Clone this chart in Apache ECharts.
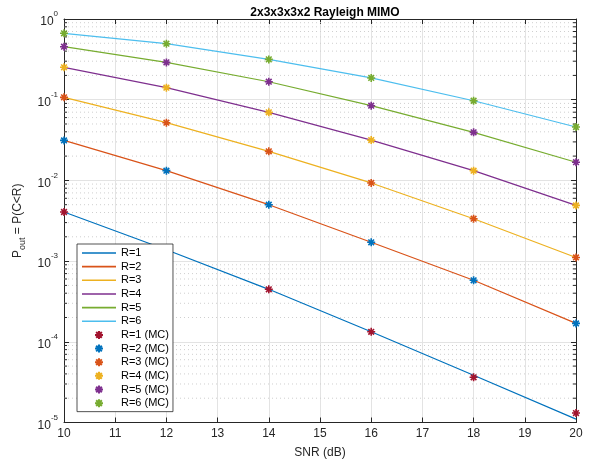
<!DOCTYPE html>
<html>
<head>
<meta charset="utf-8">
<script src="https://cdn.jsdelivr.net/npm/echarts@6/dist/echarts.min.js"></script>
<style>html,body{margin:0;padding:0;background:#fff}#c{width:594px;height:465px}</style>
</head>
<body>
<div id="c"></div>
<script>
var snr = [10, 12, 14, 16, 18, 20];
var xTicks = [10, 11, 12, 13, 14, 15, 16, 17, 18, 19, 20];
var yMinorTicks = [];
[1e-5, 1e-4, 1e-3, 1e-2, 1e-1].forEach(function (d) { for (var k = 2; k <= 9; k++) yMinorTicks.push(k * d); });

var lineNames = ['R=1', 'R=2', 'R=3', 'R=4', 'R=5', 'R=6'];
var mcNames = ['R=1 (MC)', 'R=2 (MC)', 'R=3 (MC)', 'R=4 (MC)', 'R=5 (MC)', 'R=6 (MC)'];

var R1 = [4.06e-3, 1.38e-3, 4.47e-4, 1.33e-4, 3.85e-5, 1.10e-5];
var R2 = [0.0313, 0.0132, 0.0050, 0.00171, 0.000578, 0.000169];
var R3 = [0.107, 0.0519, 0.0229, 0.0093, 0.00335, 0.00111];
var R4 = [0.252, 0.141, 0.0697, 0.0316, 0.0132, 0.0049];
var R5 = [0.454, 0.290, 0.167, 0.0843, 0.0394, 0.0168];
var R6 = [0.665, 0.494, 0.316, 0.186, 0.097, 0.0459];

var MC1 = [4.06e-3, 1.38e-3, 4.47e-4, 1.33e-4, 3.63e-5, 1.31e-5];
var MC2 = [0.0313, 0.0132, 0.0050, 0.00171, 0.000578, 0.000169];
var MC3 = [0.107, 0.0519, 0.0229, 0.0093, 0.00335, 0.00111];
var MC4 = [0.252, 0.141, 0.0697, 0.0316, 0.0132, 0.0049];
var MC5 = [0.454, 0.290, 0.167, 0.0843, 0.0394, 0.0168];
var MC6 = [0.665, 0.494, 0.316, 0.186, 0.097, 0.0459];

var lineColors = ['#0072BD', '#D95319', '#EDB120', '#7E2F8E', '#77AC30', '#4DBEEE'];
var mcColors = ['#A2142F', '#0072BD', '#D95319', '#EDB120', '#7E2F8E', '#77AC30'];

var lineData = [R1, R2, R3, R4, R5, R6];
var mcData = [MC1, MC2, MC3, MC4, MC5, MC6];

function pairs(arr) { return snr.map(function (x, i) { return [x, arr[i]]; }); }

var FONT = '"Liberation Sans", Arial, Helvetica, sans-serif';
var AX = '#262626';
var star = 'path://M10,0L10,20M0,10L20,10M2.93,2.93L17.07,17.07M2.93,17.07L17.07,2.93';
var lineIcon = 'path://M0,0L0,0M0,3.2L34,3.2L34,4.8L0,4.8ZM34,8L34,8';

var series = [];
series.push({
  type: 'custom', silent: true, z: 1,
  data: yMinorTicks.map(function (v) { return [10, v]; }),
  encode: { x: 0, y: 1 },
  renderItem: function (params, api) {
    var v = api.value(1);
    var p1 = api.coord([10, v]);
    var p2 = api.coord([20, v]);
    return {
      type: 'group',
      children: [
        { type: 'line', shape: { x1: p1[0], y1: p1[1], x2: p2[0], y2: p2[1] },
          style: { stroke: '#cfcfcf', lineWidth: 1, lineDash: [1, 3] } },
        { type: 'line', shape: { x1: p1[0], y1: p1[1], x2: p1[0] + 3, y2: p1[1] },
          style: { stroke: AX, lineWidth: 1 } },
        { type: 'line', shape: { x1: p2[0] - 3, y1: p2[1], x2: p2[0], y2: p2[1] },
          style: { stroke: AX, lineWidth: 1 } }
      ]
    };
  }
});
lineData.forEach(function (d, i) {
  series.push({
    name: lineNames[i], type: 'line', data: pairs(d), symbol: 'none', z: 2,
    lineStyle: { color: lineColors[i], width: 1.2 }, itemStyle: { color: lineColors[i] }
  });
});
mcData.forEach(function (d, i) {
  series.push({
    name: mcNames[i], type: 'scatter', data: pairs(d), symbol: star, symbolSize: 8, z: 3,
    itemStyle: { color: mcColors[i], borderColor: mcColors[i], borderWidth: 1.6, opacity: 1 }
  });
});

var legendData = lineNames.map(function (n) { return { name: n, icon: lineIcon }; }).concat(mcNames);

var chart = echarts.init(document.getElementById('c'), null, { renderer: 'canvas' });
chart.setOption({
  animation: false,
  backgroundColor: '#fff',
  textStyle: { fontFamily: FONT },
  title: {
    text: '2x3x3x3x2 Rayleigh MIMO', left: 320, textAlign: 'center', top: 2,
    textStyle: { fontFamily: FONT, fontSize: 12, fontWeight: 'bold', color: '#000' }
  },
  grid: { left: 64, right: 18, top: 19, bottom: 42.5, containLabel: false },
  legend: {
    orient: 'vertical', left: 77, top: 244, z: 10,
    data: legendData,
    itemWidth: 34, itemHeight: 8, itemGap: 2.65,
    padding: [3.5, 4, 3, 5],
    backgroundColor: '#fff', borderColor: AX, borderWidth: 0.8, borderRadius: 0,
    textStyle: { fontFamily: FONT, fontSize: 11, color: '#000' },
    selectedMode: false
  },
  xAxis: [{
    type: 'value', min: 10, max: 20, interval: 1, position: 'bottom',
    name: 'SNR (dB)', nameLocation: 'middle', nameGap: 24,
    nameTextStyle: { fontFamily: FONT, fontSize: 12, color: AX },
    axisLine: { show: true, lineStyle: { color: AX, width: 1 } },
    axisTick: { show: true, inside: true, length: 5, lineStyle: { color: AX } },
    axisLabel: { fontFamily: FONT, fontSize: 12, color: AX, margin: 5 },
    splitLine: { show: true, lineStyle: { color: '#e3e3e3', width: 1 } }
  }, {
    type: 'value', min: 10, max: 20, interval: 1, position: 'top',
    axisLine: { show: true, lineStyle: { color: AX, width: 1 } },
    axisTick: { show: true, inside: true, length: 5, lineStyle: { color: AX } },
    axisLabel: { show: false }, splitLine: { show: false }
  }],
  yAxis: [{
    type: 'log', logBase: 10, min: 1e-5, max: 1, position: 'left',
    name: '{t|P}{sub|out}{t| = P(C<R)}', nameLocation: 'middle', nameGap: 36, nameRotate: 90,
    nameTextStyle: {
      fontFamily: FONT, fontSize: 12, color: AX,
      rich: {
        t: { fontFamily: FONT, fontSize: 12, color: AX, lineHeight: 18, verticalAlign: 'middle' },
        sub: { fontFamily: FONT, fontSize: 9, color: AX, lineHeight: 18, verticalAlign: 'bottom' }
      }
    },
    axisLine: { show: true, lineStyle: { color: AX, width: 1 } },
    axisTick: { show: true, inside: true, length: 5, lineStyle: { color: AX } },
    axisLabel: {
      margin: 6, color: AX,
      formatter: function (v) { var e = Math.round(Math.log10(v)); return '{b|10}{s|' + e + '}'; },
      rich: {
        b: { fontFamily: FONT, fontSize: 12, color: AX, lineHeight: 18, verticalAlign: 'bottom' },
        s: { fontFamily: FONT, fontSize: 8, color: AX, lineHeight: 18, verticalAlign: 'top' }
      }
    },
    splitLine: { show: true, lineStyle: { color: '#e3e3e3', width: 1 } }
  }, {
    type: 'log', logBase: 10, min: 1e-5, max: 1, position: 'right',
    axisLine: { show: true, lineStyle: { color: AX, width: 1 } },
    axisTick: { show: true, inside: true, length: 5, lineStyle: { color: AX } },
    axisLabel: { show: false }, splitLine: { show: false }
  }],
  series: series
});
</script>
</body>
</html>
